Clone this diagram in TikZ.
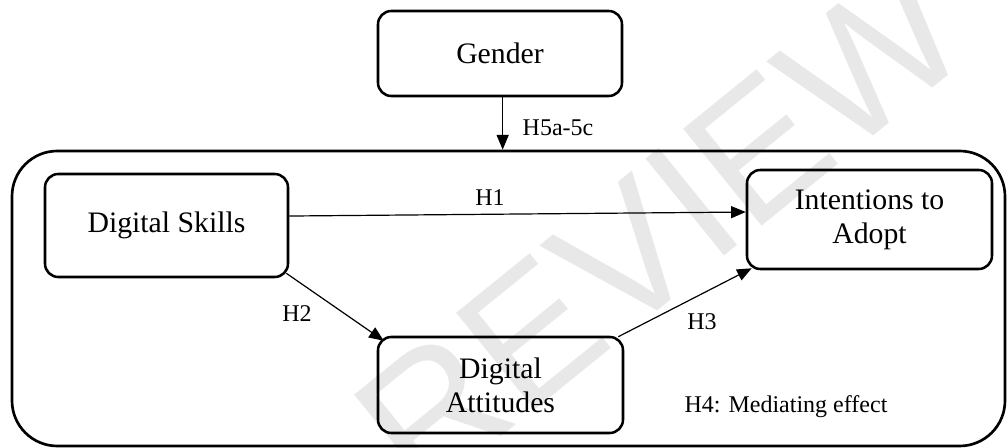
\documentclass[tikz,border=0pt]{standalone}
\usepackage{fontspec}
\setmainfont{Liberation Serif}
\newfontfamily\wmfont{Liberation Sans}
\usetikzlibrary{arrows.meta}

\begin{document}
\begin{tikzpicture}[x=0.75pt,y=-0.75pt,
  box/.style={draw, line width=1.9pt, rounded corners=10pt, align=center,
    font=\fontsize{22.3}{25.5}\selectfont, inner sep=0pt},
  lbl/.style={font=\fontsize{18}{21}\selectfont, inner sep=0pt},
  link/.style={line width=0.9pt, -{Triangle[length=11pt,width=9pt]}},
]
\useasboundingbox (0,0) rectangle (1008,448);

% faint watermark
\node[rotate=39, text=gray!18, font=\wmfont\fontsize{136}{136}\selectfont, inner sep=0pt]
  (wm) at (660,228) {REVIEW};

% enclosing frame
\node[draw, line width=2pt, rounded corners=34pt, minimum width=744.75pt,
  minimum height=221.25pt, inner sep=0pt] (frame) at (508.5,298.5) {};

% constructs
\node[box, minimum width=183pt, minimum height=63.75pt] (gender) at (500,53.5) {Gender};
\node[box, minimum width=182.25pt, minimum height=77.25pt] (skills) at (166.5,225.5) {Digital Skills};
\node[box, minimum width=183.75pt, minimum height=74.25pt] (intent) at (869.5,219.5) {Intentions to\\Adopt};
\node[box, minimum width=183.75pt, minimum height=72pt] (attit) at (500.5,385) {Digital\\Attitudes};

% paths
\draw[link] ([xshift=2pt]gender.south) -- ([xshift=2pt]gender.south |- frame.north);
\draw[link] ([yshift=7.1pt]skills.east) -- ([yshift=5.6pt]intent.west);
\draw[link] ([shift={(-2.25pt,3.75pt)}]skills.south east) -- ([shift={(5.25pt,-3.75pt)}]attit.north west);
\draw[link] ([shift={(-4.5pt,-0.75pt)}]attit.north east) -- ([shift={(4.5pt,1.5pt)}]intent.south west);

% hypothesis labels
\node[lbl] (h5) at (558,128) {H5a-5c};
\node[lbl] (h1) at (490,198) {H1};
\node[lbl] (h2) at (297,314) {H2};
\node[lbl] (h3) at (702,322) {H3};
\node[lbl, anchor=base] (h4) at (786,413) {H4: Mediating effect};
\end{tikzpicture}
\end{document}
